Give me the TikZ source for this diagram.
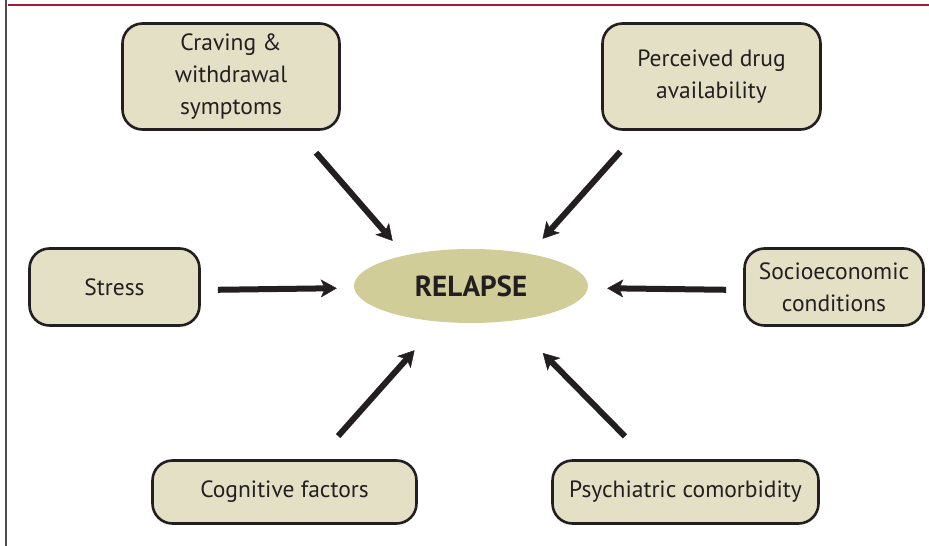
\documentclass[tikz,border=0pt]{standalone}
\usepackage{fontspec}
\setmainfont{PT Sans}
\usetikzlibrary{arrows.meta, shapes.geometric}
\definecolor{boxfill}{HTML}{E3E0C6}
\definecolor{hubfill}{HTML}{D1CD99}
\definecolor{rulered}{HTML}{A6192E}
\definecolor{inkdark}{HTML}{231F20}

\begin{document}
\begin{tikzpicture}[x=1pt, y=-1pt,
    factor/.style={draw=inkdark, line width=2.6pt, rounded corners=20pt, fill=boxfill, align=center, text=inkdark, font=\fontsize{23.5}{32}\selectfont, inner sep=0pt},
    hub/.style={ellipse, fill=hubfill, minimum width=234pt, minimum height=74pt, inner sep=0pt, text=inkdark, font=\bfseries\fontsize{29}{34}\selectfont},
    arrow/.style={-{Stealth[length=16pt, width=18pt, inset=4pt, line width=0.5pt]}, line width=6pt, draw=inkdark}]
  \useasboundingbox (0,0) rectangle (929,546);
  % frame
  \draw[rulered, line width=2.5pt] (8,5) -- (929,5);
  \draw[gray!60!black, line width=1.8pt] (6,0) -- (6,546);
  % centre and factors
  \node[hub] (relapse) at (471,286) {RELAPSE};
  \node[factor, minimum width=217pt, minimum height=106pt] (craving) at (231,76.5) {Craving \&\\withdrawal\\symptoms};
  \node[factor, minimum width=218pt, minimum height=106pt] (drug) at (711.5,76.5) {Perceived drug\\availability};
  \node[factor, minimum width=170pt, minimum height=77pt] (stress) at (114.5,287) {Stress};
  \node[factor, minimum width=179pt, minimum height=77pt] (socio) at (834,287) {Socioeconomic\\conditions};
  \node[factor, minimum width=264pt, minimum height=63pt] (cognitive) at (284.5,492) {Cognitive factors};
  \node[factor, minimum width=266pt, minimum height=63pt] (psych) at (685.5,492) {Psychiatric comorbidity};
  % arrows into relapse
  \draw[arrow, shorten <=29pt, shorten >=19pt] ([xshift=66pt]craving.south) -- (relapse.155);
  \draw[arrow, shorten <=28pt, shorten >=20pt] ([xshift=-72.5pt]drug.south) -- (relapse.29);
  \draw[arrow, shorten <=17pt, shorten >=17pt] ([yshift=-3pt]stress.east) -- ([yshift=-2pt]relapse.west);
  \draw[arrow, shorten <=17pt, shorten >=19pt] ([yshift=-3pt]socio.west) -- ([yshift=-2pt]relapse.east);
  \draw[arrow, shorten <=31pt, shorten >=38pt] ([xshift=33pt]cognitive.north) -- (relapse.229);
  \draw[arrow, shorten <=32pt, shorten >=45pt] ([xshift=-38pt]psych.north) -- (relapse.319);
\end{tikzpicture}
\end{document}
